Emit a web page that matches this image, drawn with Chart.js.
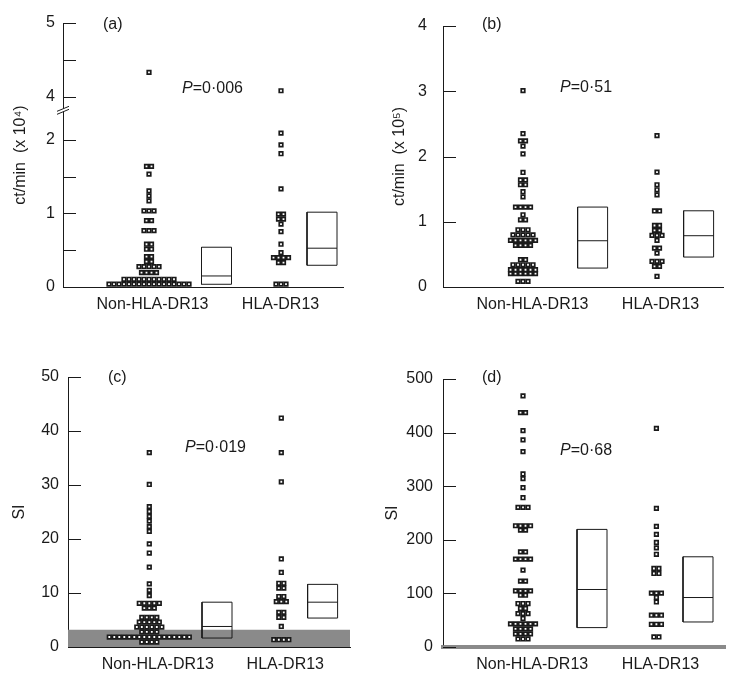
<!DOCTYPE html>
<html>
<head>
<meta charset="utf-8">
<script src="https://cdn.jsdelivr.net/npm/chart.js@4.4.1/dist/chart.umd.min.js"></script>
<style>
  html, body { margin: 0; padding: 0; background: #fff; }
  #fig { position: relative; width: 741px; height: 681px; }
  .panel { position: absolute; }
</style>
</head>
<body>
<div id="fig">
  <div class="panel" style="left:0;top:0;width:370px;height:340px"><canvas id="chart-a"></canvas></div>
  <div class="panel" style="left:370px;top:0;width:371px;height:340px"><canvas id="chart-b"></canvas></div>
  <div class="panel" style="left:0;top:340px;width:370px;height:341px"><canvas id="chart-c"></canvas></div>
  <div class="panel" style="left:370px;top:340px;width:371px;height:341px"><canvas id="chart-d"></canvas></div>
</div>
<script>
const INK = '#1a1a1a';
const BAND = '#8a8a8a';
const FONT = '"Liberation Sans", Arial, sans-serif';
const groupLabels = ['Non-HLA-DR13', 'HLA-DR13'];

// (a) ct/min (x10^4) - rows of the dot plot: value and number of squares in the row
const aNonLevels = [0.04, 0.105, 0.195, 0.276, 0.344, 0.412, 0.513, 0.581, 0.766, 0.902, 1.034, 1.17, 1.238, 1.306, 1.533, 1.637, 4.33];
const aNonCounts = [17, 11, 4, 5, 2, 2, 2, 2, 3, 2, 3, 1, 1, 1, 1, 2, 1];
const aHlaLevels = [0.04, 0.33, 0.399, 0.467, 0.581, 0.752, 0.853, 0.921, 0.989, 1.333, 1.81, 1.93, 2.09, 4.08];
const aHlaCounts = [3, 2, 4, 1, 1, 1, 1, 2, 2, 1, 1, 1, 1, 1];
const aBoxNon = [0.037, 0.15, 0.54];   // q1, median, q3
const aBoxHla = [0.295, 0.527, 1.016];
const aTicks = [0, 0.5, 1, 1.5, 2, 4, 4.5, 5];
const aLabelled = [0, 1, 2, 4, 5];

// (b) ct/min (x10^5)
const bNonLevels = [0.086, 0.204, 0.265, 0.341, 0.418, 0.637, 0.714, 0.80, 0.877, 1.03, 1.107, 1.225, 1.38, 1.46, 1.567, 1.64, 1.755, 2.04, 2.16, 2.24, 2.35, 3.01];
const bNonCounts = [3, 6, 6, 5, 2, 4, 6, 5, 3, 2, 1, 4, 1, 1, 2, 2, 1, 1, 1, 2, 1, 1];
const bHlaLevels = [0.163, 0.316, 0.392, 0.52, 0.597, 0.714, 0.79, 0.867, 0.943, 1.165, 1.413, 1.49, 1.567, 1.76, 2.32];
const bHlaCounts = [1, 2, 3, 1, 2, 1, 3, 2, 2, 2, 1, 1, 1, 1, 1];
const bBoxNon = [0.29, 0.709, 1.225];
const bBoxHla = [0.459, 0.786, 1.168];
const bTicks = [0, 1, 2, 3, 4];

// (c) SI
const cNonLevels = [0.92, 1.85, 2.8, 3.7, 4.6, 5.5, 7.2, 8.1, 9.5, 10.5, 11.7, 14.8, 17.4, 19.1, 21.4, 22.3, 23.3, 24.2, 25.1, 26.0, 30.1, 36.0];
const cNonCounts = [4, 17, 4, 6, 5, 4, 3, 5, 1, 1, 1, 1, 1, 1, 1, 1, 1, 1, 1, 1, 1, 1];
const cHlaLevels = [1.35, 3.8, 5.5, 6.4, 8.4, 9.35, 10.9, 11.8, 13.8, 16.3, 30.6, 36.0, 42.4];
const cHlaCounts = [4, 1, 2, 2, 3, 2, 2, 2, 1, 1, 1, 1, 1];
const cBoxNon = [1.66, 3.8, 8.3];
const cBoxHla = [5.36, 8.3, 11.6];
const cTicks = [0, 10, 20, 30, 40, 50];

// (d) SI
const dNonLevels = [15, 24.4, 33.7, 43, 53.1, 62.4, 71.8, 81.1, 96.6, 104.7, 122.8, 143.4, 163.9, 177.6, 218.1, 226.2, 260.5, 278.5, 297.2, 314.1, 322.8, 364.5, 386.4, 403.7, 437.4, 468.6];
const dNonCounts = [3, 4, 4, 6, 1, 3, 2, 3, 2, 4, 2, 1, 4, 2, 2, 4, 3, 1, 1, 1, 1, 1, 1, 1, 2, 1];
const dHlaLevels = [18.7, 42.4, 59.3, 84, 92.3, 100.5, 137.2, 146.5, 173, 185, 195, 210, 225, 258.7, 408];
const dHlaCounts = [2, 3, 3, 1, 1, 3, 2, 2, 1, 1, 1, 1, 1, 1, 1];
const dBoxNon = [36.2, 107.3, 219.4];
const dBoxHla = [46.7, 92.3, 168.3];
const dTicks = [0, 100, 200, 300, 400, 500];

const siCutoff = 3.2; // shaded background band

// axis break in (a): values above 3 are drawn shifted down
const breakShift = 1.415;
const aToAxis = v => v > 3 ? v - breakShift : v;
const aFromAxis = v => v > 2.3 ? v + breakShift : v;
const same = v => v;

const PITCH = 5;   // px between neighbouring squares
const BOX_W = 30;

function dotData(levels, counts, cx, map) {
    const pts = [];
    levels.forEach((lv, i) => {
        const n = counts[i];
        for (let k = 0; k < n; k++) {
            pts.push({ x: cx + (k - (n - 1) / 2) * PITCH, y: map(lv) });
        }
    });
    return pts;
}

function boxData(cx, stats, map) {
    const h = BOX_W / 2;
    const lo = map(stats[0]), hi = map(stats[2]);
    return [{ x: cx - h, y: lo }, { x: cx + h, y: lo }, { x: cx + h, y: hi }, { x: cx - h, y: hi }, { x: cx - h, y: lo }];
}

function medianData(cx, stats, map) {
    const h = BOX_W / 2;
    return [{ x: cx - h, y: map(stats[1]) }, { x: cx + h, y: map(stats[1]) }];
}

// tick marks drawn on the inside of the y axis, plus tag, P value and axis break
const panelDecor = {
    id: 'panelDecor',
    afterDraw(chart, args, opts) {
        const { ctx, chartArea } = chart;
        const y = chart.scales.y;
        ctx.save();
        ctx.strokeStyle = INK;
        ctx.lineWidth = 1;
        y.ticks.forEach(t => {
            const py = Math.round(y.getPixelForValue(t.value)) + 0.5;
            ctx.beginPath();
            ctx.moveTo(chartArea.left, py);
            ctx.lineTo(chartArea.left + 13, py);
            ctx.stroke();
        });
        if (opts.breakAt !== undefined) {
            const py = y.getPixelForValue(opts.breakAt);
            const lx = chartArea.left;
            ctx.fillStyle = '#fff';
            ctx.beginPath();
            ctx.moveTo(lx - 6, py + 4); ctx.lineTo(lx + 6, py - 1);
            ctx.lineTo(lx + 6, py + 2); ctx.lineTo(lx - 6, py + 7);
            ctx.closePath(); ctx.fill();
            ctx.beginPath();
            ctx.moveTo(lx - 6, py + 4); ctx.lineTo(lx + 6, py - 1);
            ctx.moveTo(lx - 6, py + 7); ctx.lineTo(lx + 6, py + 2);
            ctx.stroke();
        }
        ctx.fillStyle = INK;
        ctx.textBaseline = 'middle';
        ctx.textAlign = 'left';
        ctx.font = '16px ' + FONT;
        ctx.fillText(opts.tag, chartArea.left + opts.tagPos[0], chartArea.top + opts.tagPos[1]);
        const px = chartArea.left + opts.pPos[0], pyy = chartArea.top + opts.pPos[1];
        ctx.font = 'italic 16px ' + FONT;
        ctx.fillText('P', px, pyy);
        const w = ctx.measureText('P').width;
        ctx.font = '16px ' + FONT;
        ctx.fillText(opts.pText, px + w, pyy);
        ctx.restore();
    }
};

function makePanel(cfg) {
    const map = cfg.map || same;
    const datasets = [];
    if (cfg.band) {
        datasets.push({
            data: [{ x: 0, y: cfg.band }, { x: cfg.width, y: cfg.band }],
            showLine: true, fill: 'start', backgroundColor: BAND, borderWidth: 0,
            pointRadius: 0, order: 5
        });
    }
    [0, 1].forEach(g => {
        datasets.push({
            data: boxData(cfg.boxX[g], cfg.boxes[g], map),
            showLine: true, borderColor: INK, borderWidth: 1, pointRadius: 0, fill: false, order: 3
        });
        datasets.push({
            data: medianData(cfg.boxX[g], cfg.boxes[g], map),
            showLine: true, borderColor: INK, borderWidth: 1, pointRadius: 0, fill: false, order: 3
        });
        datasets.push({
            data: dotData(cfg.levels[g], cfg.counts[g], cfg.dotX[g], map),
            pointStyle: 'rect', pointRadius: 2.5, pointBorderWidth: 1.7,
            pointBackgroundColor: '#fff', pointBorderColor: INK, clip: false, order: 1
        });
    });

    new Chart(document.getElementById(cfg.id), {
        type: 'scatter',
        data: { datasets },
        options: {
            responsive: true,
            maintainAspectRatio: false,
            animation: false,
            layout: { padding: { top: cfg.top, right: cfg.right, left: 0, bottom: 0 } },
            plugins: {
                legend: { display: false },
                tooltip: { enabled: false },
                panelDecor: { tag: cfg.tag, tagPos: cfg.tagPos, pText: cfg.pText, pPos: cfg.pPos, breakAt: cfg.breakAt }
            },
            scales: {
                x: {
                    min: 0, max: cfg.width,
                    afterFit: s => { s.height = cfg.xHeight; },
                    afterBuildTicks: s => { s.ticks = cfg.labelX.map(v => ({ value: v })); },
                    grid: { display: false, drawTicks: false },
                    border: { color: cfg.xBorderColor || INK, width: cfg.xBorderWidth || 1 },
                    ticks: {
                        callback: (v, i) => groupLabels[i],
                        font: { family: FONT, size: 16 }, color: INK,
                        padding: 8, maxRotation: 0, autoSkip: false
                    }
                },
                y: {
                    min: 0, max: map(cfg.yTicks[cfg.yTicks.length - 1]),
                    afterFit: s => { s.width = cfg.left; },
                    afterBuildTicks: s => { s.ticks = cfg.yTicks.map(v => ({ value: map(v) })); },
                    grid: { display: false, drawTicks: false },
                    border: { color: INK, width: 1 },
                    ticks: {
                        callback: v => {
                            const real = Math.round((cfg.fromAxis || same)(v) * 1000) / 1000;
                            return (cfg.labelled || cfg.yTicks).includes(real) ? String(real) : '';
                        },
                        font: { family: FONT, size: 16 }, color: INK, padding: cfg.tickPad
                    },
                    title: {
                        display: true, text: cfg.yTitle, color: INK,
                        font: { family: FONT, size: 16 }, padding: { top: cfg.titlePad, bottom: 0 }
                    }
                }
            }
        },
        plugins: [panelDecor]
    });
}

makePanel({
    id: 'chart-a', left: 63, top: 23, right: 27, xHeight: 53, width: 280,
    levels: [aNonLevels, aHlaLevels], counts: [aNonCounts, aHlaCounts], boxes: [aBoxNon, aBoxHla],
    dotX: [86, 218], boxX: [153.5, 259], labelX: [89.5, 217.5],
    yTicks: aTicks, labelled: aLabelled, map: aToAxis, fromAxis: aFromAxis, breakAt: 2.44,
    yTitle: 'ct/min  (x 10⁴)', titlePad: 11, tickPad: 8,
    tag: '(a)', tagPos: [40, 2], pText: '=0·006', pPos: [119, 66]
});

makePanel({
    id: 'chart-b', left: 73, top: 26, right: 18, xHeight: 53, width: 280,
    levels: [bNonLevels, bHlaLevels], counts: [bNonCounts, bHlaCounts], boxes: [bBoxNon, bBoxHla],
    dotX: [80, 214], boxX: [149.6, 255.6], labelX: [89.5, 217.5],
    yTicks: bTicks, yTitle: 'ct/min  (x 10⁵)', titlePad: 20, tickPad: 16,
    tag: '(b)', tagPos: [39, -1], pText: '=0·51', pPos: [117, 62]
});

makePanel({
    id: 'chart-c', left: 68, top: 37, right: 20, xHeight: 34, width: 282,
    levels: [cNonLevels, cHlaLevels], counts: [cNonCounts, cHlaCounts], boxes: [cBoxNon, cBoxHla],
    dotX: [81.3, 213.3], boxX: [149, 254.6], labelX: [89.8, 217.3],
    yTicks: cTicks, yTitle: 'SI', titlePad: 10, tickPad: 9, band: siCutoff,
    tag: '(c)', tagPos: [40, 1], pText: '=0·019', pPos: [117, 71]
});

makePanel({
    id: 'chart-d', left: 73, top: 39, right: 16, xHeight: 34, width: 282,
    levels: [dNonLevels, dHlaLevels], counts: [dNonCounts, dHlaCounts], boxes: [dBoxNon, dBoxHla],
    dotX: [80, 213.4], boxX: [149, 255], labelX: [89.2, 217.5],
    yTicks: dTicks, yTitle: 'SI', titlePad: 13, tickPad: 10, band: siCutoff,
    xBorderColor: BAND, xBorderWidth: 4,
    tag: '(d)', tagPos: [39, -1], pText: '=0·68', pPos: [117, 72]
});
</script>
</body>
</html>
